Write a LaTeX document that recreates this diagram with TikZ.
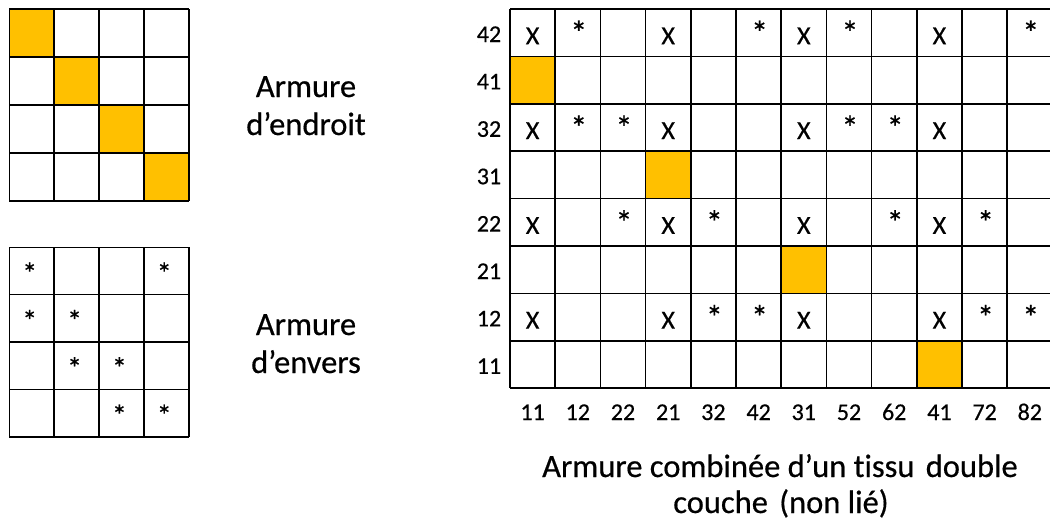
\documentclass[tikz,border=0pt]{standalone}
\usepackage{fontspec}
\setmainfont{Carlito}[FakeBold=0.5,Ligatures=NoCommon]
\definecolor{gold}{HTML}{FFC000}
\begin{document}
\begin{tikzpicture}[x=1pt,y=-1pt,
  gridline/.style={draw=black,line width=1.6pt},
  bigtext/.style={anchor=base,inner sep=0pt,font=\fontsize{32.5}{38}\selectfont},
  lbl/.style={anchor=base,inner sep=0pt,font=\fontsize{24}{28}\selectfont},
  xmark/.style={anchor=base,inner sep=0pt,font=\fontsize{26}{30}\selectfont},
  amark/.style={anchor=base,inner sep=0pt,font=\fontsize{34}{38}\selectfont},
  smark/.style={anchor=base,inner sep=0pt,font=\fontsize{30}{34}\selectfont}]
\useasboundingbox (0,0) rectangle (1050,522);
% ---------- top left grid (armure d'endroit)
\def\lx{9.3}\def\lw{44.85}
\def\ty{9}\def\th{48}
\foreach \i in {1,...,4}{
  \fill[gold] ({\lx+(\i-1)*\lw},{\ty+(\i-1)*\th}) rectangle ++(\lw,\th);
}
\foreach \i in {0,...,4}{
  \draw[gridline] ({\lx+\i*\lw},\ty) -- ({\lx+\i*\lw},{\ty+4*\th});
  \draw[gridline] (\lx,{\ty+\i*\th}) -- ({\lx+4*\lw},{\ty+\i*\th});
}
% ---------- bottom left grid (armure d'envers)
\def\by{247.3}\def\bh{47.35}
\foreach \i in {0,...,4}{
  \draw[gridline] ({\lx+\i*\lw},\by) -- ({\lx+\i*\lw},{\by+4*\bh});
  \draw[gridline] (\lx,{\by+\i*\bh}) -- ({\lx+4*\lw},{\by+\i*\bh});
}
\foreach \r/\c [count=\k] in {1/1,1/4,2/1,2/2,3/2,3/3,4/3,4/4}{
  \node[smark] (s\k) at ({\lx+(\c-0.5)*\lw-2},{\by+(\r-0.5)*\bh+12.8}) {*};
}
% ---------- labels
\node[bigtext] (endroit1) at (306,97) {Armure};
\node[bigtext] (endroit2) at (306,135) {d’endroit};
\node[bigtext] (envers1) at (306,335) {Armure};
\node[bigtext] (envers2) at (306,373) {d’envers};
% ---------- right grid
\def\rx{510}\def\rw{45.2}
\def\ry{9}\def\rh{47.4}
\foreach \r/\c in {2/1,4/4,6/7,8/10}{
  \fill[gold] ({\rx+(\c-1)*\rw},{\ry+(\r-1)*\rh}) rectangle ++(\rw,\rh);
}
\foreach \i in {0,...,12}{
  \draw[gridline] ({\rx+\i*\rw},\ry) -- ({\rx+\i*\rw},{\ry+8*\rh});
}
\foreach \i in {0,...,8}{
  \draw[gridline] (\rx,{\ry+\i*\rh}) -- ({\rx+12*\rw},{\ry+\i*\rh});
}
% X marks
\foreach \r in {1,3,5,7}{
  \foreach \c in {1,4,7,10}{
    \node[xmark] (x\r-\c) at ({\rx+(\c-0.5)*\rw},{\ry+(\r-0.5)*\rh+11.5}) {X};
  }
}
% asterisks
\foreach \r/\c in {1/2,1/6,1/8,1/12,3/2,3/3,3/8,3/9,5/3,5/5,5/9,5/11,7/5,7/6,7/11,7/12}{
  \node[amark] (a\r-\c) at ({\rx+(\c-0.5)*\rw+1},{\ry+(\r-0.5)*\rh+12}) {*};
}
% row labels
\foreach \t [count=\r] in {42,41,32,31,22,21,12,11}{
  \node[lbl] (row\r) at (489,{\ry+(\r-0.5)*\rh+9.3}) {\t};
}
% column labels
\foreach \t [count=\c] in {11,12,22,21,32,42,31,52,62,41,72,82}{
  \node[lbl] (col\c) at ({\rx+(\c-0.5)*\rw},420) {\t};
}
% caption
\node[bigtext] (cap1) at (780,477) {Armure combinée d’un tissu\hspace{4pt} double};
\node[bigtext] (cap2) at (781,513) {couche\hspace{4pt} (non lié)};
\end{tikzpicture}
\end{document}
